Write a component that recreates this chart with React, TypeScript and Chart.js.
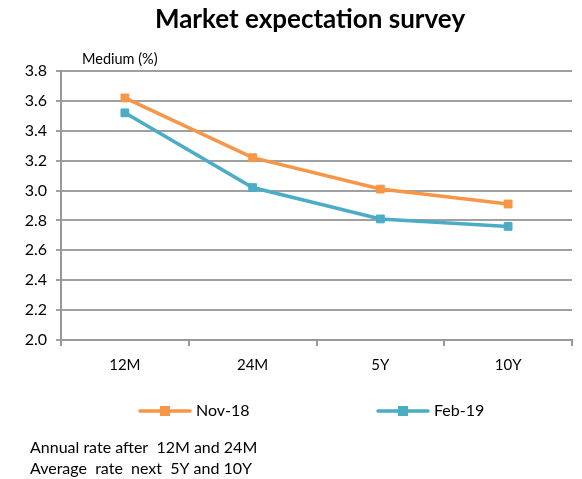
import React, { useEffect, useRef } from "react";
import { Chart, registerables } from "chart.js";

Chart.register(...registerables);

const categories = ["12M", "24M", "5Y", "10Y"];
const nov18 = [3.62, 3.22, 3.01, 2.91];
const feb19 = [3.52, 3.02, 2.81, 2.76];
const seriesNames = ["Nov-18", "Feb-19"];
const yTicks = { min: 2.0, max: 3.8, step: 0.2 };
const chartTitle = "Market expectation survey";
const axisTitle = "Medium (%)";
const notes = ["Annual rate after  12M and 24M", "Average  rate  next  5Y and 10Y"];

const ORANGE = "#F79646";
const TEAL = "#4BACC6";
const FONT = "Lato, 'Open Sans', sans-serif";

export default function App() {
  const ref = useRef<HTMLCanvasElement | null>(null);
  useEffect(() => {
    if (!ref.current) return;
    const overlay = {
      id: "overlay",
      afterDraw(chart: any) {
        const ctx = chart.ctx;
        ctx.save();
        ctx.fillStyle = "#000";
        ctx.textBaseline = "middle";
        ctx.font = `bold 26px ${FONT}`;
        ctx.textAlign = "center";
        ctx.fillText(chartTitle, 310, 20);
        ctx.font = `14.5px ${FONT}`;
        ctx.textAlign = "left";
        ctx.fillText(axisTitle, 82, 59);
        // legend
        const items = [
          { name: seriesNames[0], color: ORANGE, x: 138 },
          { name: seriesNames[1], color: TEAL, x: 376 },
        ];
        items.forEach((it) => {
          ctx.strokeStyle = it.color;
          ctx.lineWidth = 3.5;
          ctx.lineCap = "round";
          ctx.beginPath();
          ctx.moveTo(it.x + 2, 411);
          ctx.lineTo(it.x + 52, 411);
          ctx.stroke();
          ctx.fillStyle = it.color;
          ctx.fillRect(it.x + 22, 406, 10, 10);
          ctx.fillStyle = "#000";
          ctx.font = `16px ${FONT}`;
          ctx.fillText(it.name, it.x + 58, 411);
        });
        ctx.font = `16px ${FONT}`;
        ctx.fillText(notes[0], 30, 448);
        ctx.fillText(notes[1], 30, 469);
        ctx.restore();
      },
    };
    const chart = new Chart(ref.current, {
      type: "line",
      data: {
        labels: categories,
        datasets: [
          {
            label: seriesNames[0],
            data: nov18,
            borderColor: ORANGE,
            backgroundColor: ORANGE,
            borderWidth: 3.5,
            pointStyle: "rect",
            pointRadius: 5.5,
            pointBorderWidth: 1,
            pointBackgroundColor: ORANGE,
            pointBorderColor: ORANGE,
            tension: 0,
          },
          {
            label: seriesNames[1],
            data: feb19,
            borderColor: TEAL,
            backgroundColor: TEAL,
            borderWidth: 3.5,
            pointStyle: "rect",
            pointRadius: 5.5,
            pointBorderWidth: 1,
            pointBackgroundColor: TEAL,
            pointBorderColor: TEAL,
            tension: 0,
          },
        ],
      },
      options: {
        animation: false,
        responsive: false,
        maintainAspectRatio: false,
        layout: { padding: { top: 71, right: 10, bottom: 99, left: 0 } },
        plugins: {
          legend: { display: false },
          title: { display: false },
          tooltip: { enabled: false },
        },
        scales: {
          x: {
            offset: true,
            grid: {
              offset: true,
              drawOnChartArea: false,
              drawTicks: true,
              tickLength: 6,
              color: "#999",
              lineWidth: 2,
            },
            border: { color: "#999", width: 2 },
            ticks: { color: "#000", font: { family: FONT, size: 15 }, padding: 10 },
            afterFit(scale: any) {
              scale.height = 40;
            },
          },
          y: {
            min: yTicks.min,
            max: yTicks.max,
            grid: { color: "#a0a0a0", lineWidth: 2, tickLength: 5 },
            border: { color: "#999", width: 2 },
            ticks: {
              stepSize: yTicks.step,
              color: "#000",
              font: { family: FONT, size: 16 },
              padding: 9,
              callback: (v: any) => Number(v).toFixed(1),
            },
            afterFit(scale: any) {
              scale.width = 61;
            },
          },
        },
      },
      plugins: [overlay],
    });
    return () => chart.destroy();
  }, []);
  return (
    <div style={{ position: "absolute", left: 0, top: 0, width: 582, height: 479, background: "#fff" }}>
      <canvas ref={ref} width={582} height={479} style={{ width: 582, height: 479 }} />
    </div>
  );
}
